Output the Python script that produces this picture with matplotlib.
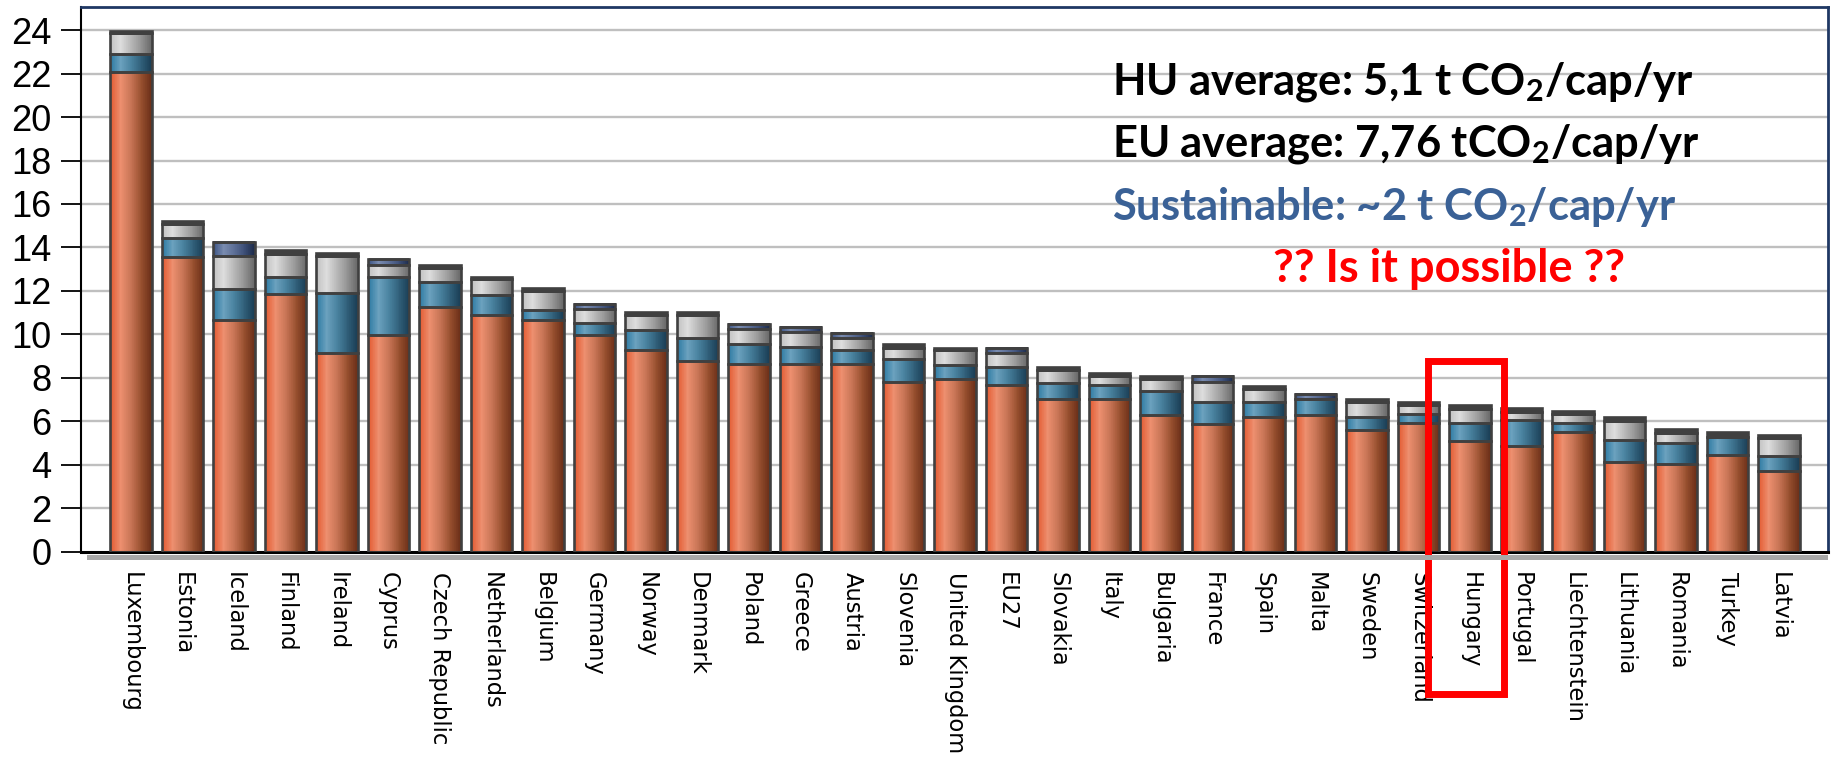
import numpy as np
import matplotlib
matplotlib.use('Agg')
import matplotlib.pyplot as plt
from matplotlib.colors import LinearSegmentedColormap
from matplotlib.patches import Rectangle

countries = ['Luxembourg', 'Estonia', 'Iceland', 'Finland', 'Ireland', 'Cyprus',
             'Czech Republic', 'Netherlands', 'Belgium', 'Germany', 'Norway',
             'Denmark', 'Poland', 'Greece', 'Austria', 'Slovenia', 'United Kingdom',
             'EU27', 'Slovakia', 'Italy', 'Bulgaria', 'France', 'Spain', 'Malta',
             'Sweden', 'Switzerland', 'Hungary', 'Portugal', 'Liechtenstein',
             'Lithuania', 'Romania', 'Turkey', 'Latvia']

# stacked components, bottom to top (t CO2 per capita)
orange_part = [22.09, 13.57, 10.64, 11.84, 9.13, 9.95, 11.28, 10.90, 10.64, 9.95, 9.26,
               8.76, 8.61, 8.61, 8.61, 7.80, 7.93, 7.65, 7.00, 7.01, 6.30, 5.89, 6.18,
               6.30, 5.61, 5.90, 5.10, 4.84, 5.50, 4.14, 4.01, 4.43, 3.72]
blue_part = [0.80, 0.85, 1.46, 0.81, 2.76, 2.70, 1.11, 0.93, 0.50, 0.56, 0.96,
             1.05, 0.93, 0.79, 0.65, 1.08, 0.67, 0.83, 0.78, 0.64, 1.07, 0.98, 0.69,
             0.71, 0.57, 0.43, 0.80, 1.20, 0.40, 0.99, 0.97, 0.84, 0.69]
grey_part = [0.98, 0.66, 1.49, 1.06, 1.72, 0.53, 0.64, 0.70, 0.84, 0.64, 0.68,
             1.09, 0.69, 0.70, 0.57, 0.50, 0.66, 0.64, 0.56, 0.41, 0.55, 0.92, 0.63,
             0.00, 0.70, 0.40, 0.67, 0.40, 0.43, 0.89, 0.49, 0.00, 0.83]
slate_part = [0, 0, 0.66, 0, 0, 0.27, 0, 0, 0, 0.26, 0,
              0, 0.26, 0.25, 0.24, 0, 0, 0.25, 0, 0, 0, 0.29, 0,
              0.24, 0, 0, 0, 0, 0, 0, 0, 0, 0]
top_part = [0.11, 0.12, 0, 0.16, 0.12, 0, 0.15, 0.13, 0.14, 0, 0.11,
            0.11, 0, 0, 0, 0.16, 0.13, 0, 0.14, 0.14, 0.15, 0, 0.14,
            0, 0.13, 0.14, 0.16, 0.15, 0.12, 0.16, 0.16, 0.22, 0.11]

notes = [r'HU average: 5,1 t CO$_2$/cap/yr',
         r'EU average: 7,76 tCO$_2$/cap/yr',
         r'Sustainable: ~2 t CO$_2$/cap/yr']
question = '?? Is it possible ??'

plt.rcParams['mathtext.default'] = 'regular'

W, H = 1835, 762
fig = plt.figure(figsize=(W / 100, H / 100), dpi=100)
ax = fig.add_axes([81 / W, 1 - 551.5 / H, (1828 - 81) / W, (551.5 - 7) / H])

edge = '#404040'
shades = {
    'orange': ['#E35A30', '#EE9070', '#C87556', '#98502F', '#6A2E18'],
    'blue': ['#2C7AA3', '#6CA2BF', '#4A83A0', '#31607A', '#1A3D54'],
    'grey': ['#C2C2C2', '#DEDEDE', '#B8B8B8', '#949494', '#686868'],
    'slate': ['#3C5484', '#7A8CB0', '#5E7098', '#3E5078', '#1C2A48'],
}
grad = np.linspace(0, 1, 64).reshape(1, -1)

x = np.arange(len(countries))
width = 0.80
bottom = np.zeros(len(countries))
layers = [(orange_part, 'orange'), (blue_part, 'blue'), (grey_part, 'grey'),
          (slate_part, 'slate'), (top_part, None)]

for vals, key in layers:
    vals = np.array(vals, dtype=float)
    if key is None:
        ax.bar(x, vals, width, bottom=bottom, color=edge, edgecolor=edge,
               linewidth=1.9, zorder=3)
    else:
        cmap = LinearSegmentedColormap.from_list(key, shades[key])
        bars = ax.bar(x, vals, width, bottom=bottom, facecolor='none',
                      edgecolor=edge, linewidth=1.9, zorder=3)
        for b in bars:
            if b.get_height() <= 0:
                continue
            x0, y0 = b.get_xy()
            ax.imshow(grad, cmap=cmap, aspect='auto', interpolation='nearest',
                      extent=(x0, x0 + b.get_width(), y0, y0 + b.get_height()),
                      zorder=2)
    bottom += vals

ax.set_xlim(-0.97, 32.95)
ax.set_ylim(0, 25.07)
ax.set_aspect('auto')

ax.set_yticks(np.arange(0, 25, 2))
ax.set_yticklabels([str(v) for v in range(0, 25, 2)], fontsize=26,
                   family='Liberation Sans')
for y in range(2, 25, 2):
    ax.axhline(y, color='#BFBFBF', linewidth=1.7, zorder=1)
ax.tick_params(axis='y', direction='out', length=14.4, width=1.3, pad=7,
               color='black')

ax.set_xticks(x)
ax.set_xticklabels(countries, rotation=-90, fontsize=16.3, family='DejaVu Sans',
                   ha='center', va='top')
ax.tick_params(axis='x', length=0, pad=15)

ax.spines['left'].set_color('black')
ax.spines['left'].set_linewidth(1.5)
ax.spines['bottom'].set_color('black')
ax.spines['bottom'].set_linewidth(2.2)
ax.spines['top'].set_color('#1F3864')
ax.spines['top'].set_linewidth(2.0)
ax.spines['right'].set_color('#1F3864')
ax.spines['right'].set_linewidth(2.0)

# floor shadow under the category axis
fig.patches.append(Rectangle((87 / W, 1 - 559.5 / H), (1828 - 87) / W, 5 / H,
                             transform=fig.transFigure, facecolor='#A8A8A8',
                             edgecolor='none'))

# highlight box around Hungary
hu = countries.index('Hungary')
ax.add_patch(Rectangle((hu - 0.82, -6.54), 1.47, 15.3, fill=False,
                       edgecolor='#FF0000', linewidth=5, clip_on=False, zorder=10))

note_colors = ['black', 'black', '#3A6196']
baselines = [95, 157, 220]
for txt, col, yb in zip(notes, note_colors, baselines):
    fig.text(1112 / W, 1 - yb / H, txt, fontsize=31.3, fontweight='bold',
             family='Lato', color=col, ha='left', va='baseline')
fig.text(1449 / W, 1 - 282 / H, question, fontsize=32.5, fontweight='bold',
         family='Lato', color='#FF0000', ha='center', va='baseline')

fig.savefig('out.png', dpi=100)
